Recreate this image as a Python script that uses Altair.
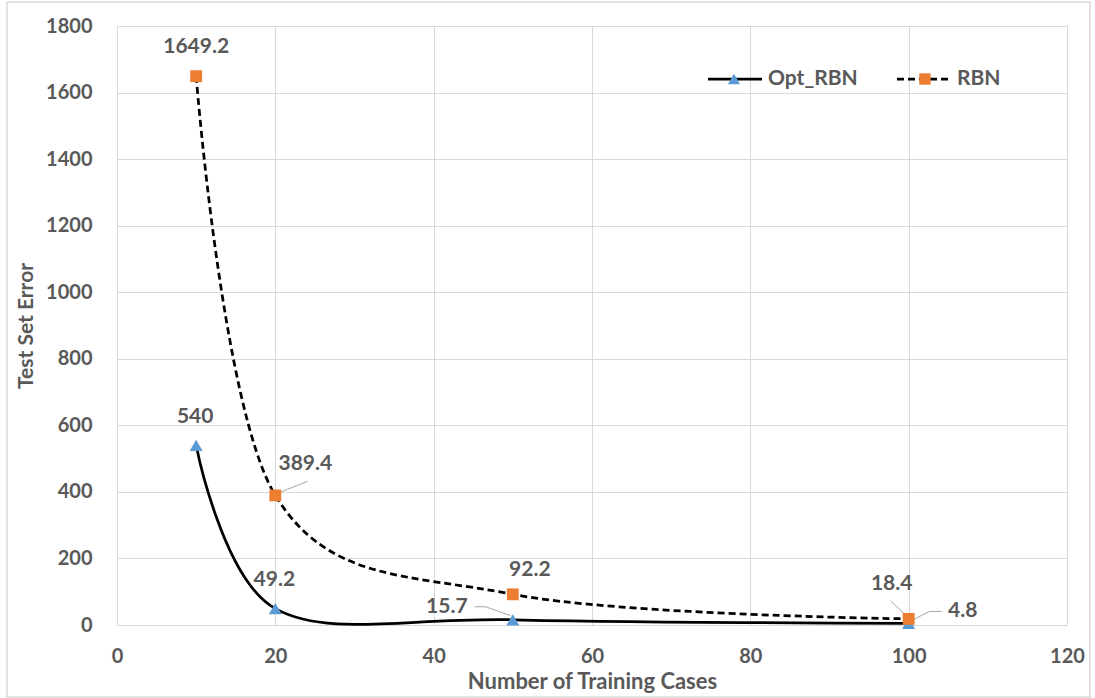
import altair as alt
import pandas as pd

# ---- data ----
x_cases = [10, 20, 50, 100]
opt_rbn = [540, 49.2, 15.7, 4.8]
rbn = [1649.2, 389.4, 92.2, 18.4]
series = ["Opt_RBN", "RBN"]
x_ticks = [0, 20, 40, 60, 80, 100, 120]
y_ticks = [0, 200, 400, 600, 800, 1000, 1200, 1400, 1600, 1800]

rows = []
for s, vals in zip(series, [opt_rbn, rbn]):
    for i, (x, v) in enumerate(zip(x_cases, vals)):
        rows.append({"series": s, "idx": i, "cases": x, "error": v, "label": f"{v:g}"})
df = pd.DataFrame(rows)

FONT = "Lato"
GREY = "#595959"
GRID = "#d9d9d9"
W, H = 950, 599
XMAX, YMAX = 120, 1800
PX_X = XMAX / W   # data units per pixel
PX_Y = YMAX / H

x_enc = alt.X("cases:Q", scale=alt.Scale(domain=[0, XMAX], nice=False, zero=False),
              axis=alt.Axis(values=x_ticks, format="d", title="Number of Training Cases", labelPadding=21,
                            labelFlush=False, titleBaseline="alphabetic", titleY=63, titleAnchor="middle",
                            titleFontSize=22))
y_enc = alt.Y("error:Q", scale=alt.Scale(domain=[0, YMAX], nice=False),
              axis=alt.Axis(values=y_ticks, format="d", title="Test Set Error", labelPadding=25,
                            labelFlush=False, titleBaseline="alphabetic", titleX=-85, titleY=H / 2,
                            titleAngle=270, titleAnchor="middle", titleFontSize=21))

base = alt.Chart(df)
opt_line = base.transform_filter(alt.datum.series == "Opt_RBN").mark_line(
    interpolate="cardinal", color="black", strokeWidth=2.75).encode(x=x_enc, y=y_enc)
rbn_line = base.transform_filter(alt.datum.series == "RBN").mark_line(
    interpolate="cardinal", color="black", strokeWidth=2.75, strokeDash=[7, 4]).encode(x=x_enc, y=y_enc)
opt_pts = base.transform_filter(alt.datum.series == "Opt_RBN").mark_point(
    shape="triangle-up", filled=True, color="#5B9BD5", size=170, opacity=1).encode(x="cases:Q", y="error:Q")
rbn_pts = base.transform_filter(alt.datum.series == "RBN").mark_point(
    shape="square", filled=True, color="#ED7D31", size=140, opacity=1).encode(x="cases:Q", y="error:Q")

# label offsets (pixels) per series / point index
label_offsets = {
    ("Opt_RBN", 0): (-1, -28), ("Opt_RBN", 1): (-1, -29),
    ("Opt_RBN", 2): (-66, -13), ("Opt_RBN", 3): (54, -12),
    ("RBN", 0): (0, -29), ("RBN", 1): (30, -31),
    ("RBN", 2): (17, -24), ("RBN", 3): (-17, -35),
}
labels = []
for (s, i), (dx, dy) in label_offsets.items():
    labels.append(
        base.transform_filter((alt.datum.series == s) & (alt.datum.idx == i)).mark_text(
            font=FONT, fontSize=21, fontWeight="bold", color=GREY, dx=dx, dy=dy,
            align="center", baseline="middle").encode(x="cases:Q", y="error:Q", text="label:N"))

# leader lines: pixel offsets from the point, converted to data units
leader_paths = {
    ("RBN", 1): [(2, -2), (32, -14)],
    ("Opt_RBN", 2): [(-38, -13), (-27, -13), (-2, -4)],
    ("RBN", 3): [(-18, -18), (-2, -3)],
    ("Opt_RBN", 3): [(33, -12), (21, -12), (1, -2)],
}
lrows = []
vals_by = {"Opt_RBN": opt_rbn, "RBN": rbn}
for k, ((s, i), pts) in enumerate(leader_paths.items()):
    for j, (ox, oy) in enumerate(pts):
        lrows.append({"path": k, "order": j,
                      "lx": x_cases[i] + ox * PX_X,
                      "ly": vals_by[s][i] - oy * PX_Y})
ldf = pd.DataFrame(lrows)
leaders = alt.Chart(ldf).mark_line(color="#a6a6a6", strokeWidth=1).encode(
    x="lx:Q", y="ly:Q", detail="path:N", order="order:Q")

# manual legend
one = pd.DataFrame({"name": ["x"]})
leg_y = 53
legend_layers = [
    alt.Chart(one).mark_rule(color="black", strokeWidth=2.75).encode(
        x=alt.value(591), x2=alt.value(645), y=alt.value(leg_y)),
    alt.Chart(one).mark_point(shape="triangle-up", filled=True, color="#5B9BD5", size=150, opacity=1).encode(
        x=alt.value(617), y=alt.value(leg_y)),
    alt.Chart(pd.DataFrame({"name": [series[0]]})).mark_text(
        font=FONT, fontSize=21, fontWeight="bold", color=GREY, align="left", baseline="middle").encode(
        x=alt.value(651), y=alt.value(leg_y), text="name:N"),
    alt.Chart(one).mark_rule(color="black", strokeWidth=2.75, strokeDash=[7, 4]).encode(
        x=alt.value(780), x2=alt.value(835), y=alt.value(leg_y)),
    alt.Chart(one).mark_point(shape="square", filled=True, color="#ED7D31", size=130, opacity=1).encode(
        x=alt.value(808), y=alt.value(leg_y)),
    alt.Chart(pd.DataFrame({"name": [series[1]]})).mark_text(
        font=FONT, fontSize=21, fontWeight="bold", color=GREY, align="left", baseline="middle").encode(
        x=alt.value(840), y=alt.value(leg_y), text="name:N"),
]

border = alt.Chart(one).mark_rect(fill=None, stroke=GRID, strokeWidth=1.5).encode(
    x=alt.value(-110), x2=alt.value(973), y=alt.value(-24), y2=alt.value(671))

chart = alt.layer(
    border, opt_line, rbn_line, leaders, opt_pts, rbn_pts, *labels, *legend_layers
).properties(
    width=W, height=H,
    autosize=alt.AutoSizeParams(type="none"),
    padding={"left": 117, "top": 26, "right": 28, "bottom": 73},
    background="white",
).configure_view(stroke=None).configure_axis(
    labelFont=FONT, labelFontSize=20, labelFontWeight="bold", labelColor=GREY,
    titleFont=FONT, titleFontSize=20, titleFontWeight="bold", titleColor=GREY,
    domain=False, ticks=False, tickSize=0, grid=True, gridColor=GRID, gridWidth=1,
)

chart.save("out.html", embed_options={"renderer": "svg", "actions": False})
